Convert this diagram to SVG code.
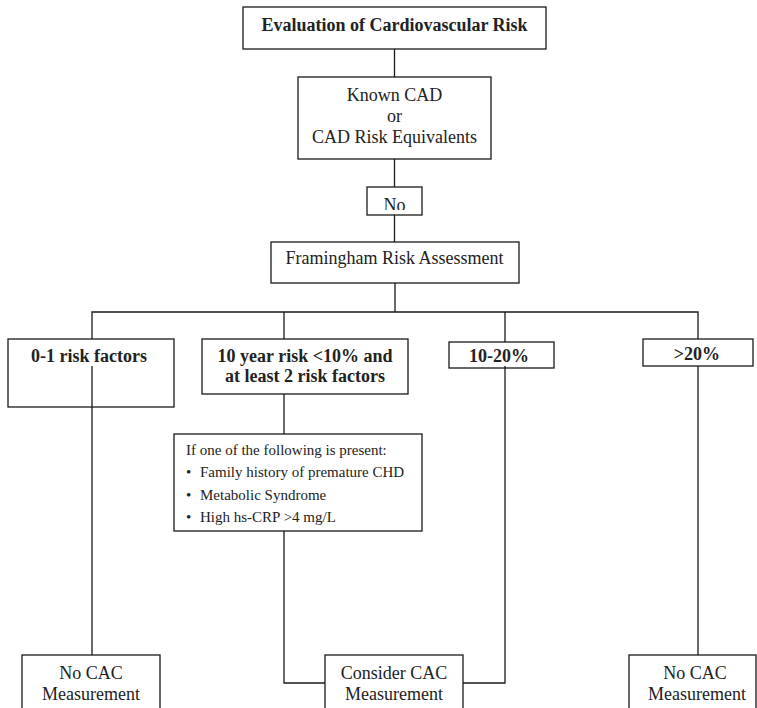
<svg xmlns="http://www.w3.org/2000/svg" width="757" height="708" viewBox="0 0 757 708">
<style>
.box{fill:#fff;stroke:#1a1a1a;stroke-width:1.3}
.ln{fill:none;stroke:#1a1a1a;stroke-width:1.3}
text{font-family:"Liberation Serif","Times New Roman",serif;font-size:18px;fill:#222}
.b{font-weight:bold}
.c{text-anchor:middle}
.s{font-size:15px}
</style>
<defs>
<clipPath id="noclip"><rect x="367" y="187" width="55" height="23"/></clipPath>
</defs>
<rect width="757" height="708" fill="#fff"/>
<g id="evaluation">
<rect class="box" x="243" y="7" width="303" height="42"/>
<text class="b c" x="394.5" y="31">Evaluation of Cardiovascular Risk</text>
</g>
<g id="known-cad">
<rect class="box" x="298" y="77" width="193" height="82"/>
<text class="c" x="394.5" y="101">Known CAD</text>
<text class="c" x="394.5" y="122">or</text>
<text class="c" x="394.5" y="143">CAD Risk Equivalents</text>
</g>
<g id="no">
<rect class="box" x="367" y="187" width="55" height="28"/>
<text class="c" x="394.5" y="211" clip-path="url(#noclip)">No</text>
</g>
<g id="framingham">
<rect class="box" x="271" y="242" width="248" height="41"/>
<text class="c" x="394.5" y="264">Framingham Risk Assessment</text>
</g>
<g id="risk-0-1">
<rect class="box" x="8" y="339" width="166" height="68"/>
<text class="b c" x="89" y="362">0-1 risk factors</text>
</g>
<g id="risk-10yr">
<rect class="box" x="202" y="339" width="206" height="55"/>
<text class="b c" x="305" y="362">10 year risk &lt;10% and</text>
<text class="b c" x="305" y="382">at least 2 risk factors</text>
</g>
<g id="risk-10-20">
<rect class="box" x="449" y="342" width="105" height="26"/>
<text class="b c" x="499" y="362">10-20%</text>
</g>
<g id="risk-gt20">
<rect class="box" x="643" y="339" width="110" height="27"/>
<text class="b c" x="697" y="360">&gt;20%</text>
</g>
<g id="conditions">
<rect class="box" x="174" y="434" width="248" height="97"/>
<text class="s" x="186" y="455">If one of the following is present:</text>
<text class="s" x="186" y="477">•</text>
<text class="s" x="200" y="477">Family history of premature CHD</text>
<text class="s" x="186" y="500">•</text>
<text class="s" x="200" y="500">Metabolic Syndrome</text>
<text class="s" x="186" y="522">•</text>
<text class="s" x="200" y="522">High hs-CRP &gt;4 mg/L</text>
</g>
<g id="no-cac-left">
<rect class="box" x="22" y="655" width="138" height="70"/>
<text class="c" x="91" y="679">No CAC</text>
<text class="c" x="91" y="700">Measurement</text>
</g>
<g id="consider-cac">
<rect class="box" x="325" y="655" width="138" height="70"/>
<text class="c" x="394" y="679">Consider CAC</text>
<text class="c" x="394" y="700">Measurement</text>
</g>
<g id="no-cac-right">
<rect class="box" x="629" y="655" width="127" height="70"/>
<text class="c" x="695" y="679">No CAC</text>
<text class="c" x="697" y="700">Measurement</text>
</g>
<g id="connectors">
<path class="ln" d="M394.5 49V77"/>
<path class="ln" d="M394.5 159V187"/>
<path class="ln" d="M394.5 215V242"/>
<path class="ln" d="M395 283V312"/>
<path class="ln" d="M92 339V312H698V339"/>
<path class="ln" d="M284 312V339"/>
<path class="ln" d="M505 312V342"/>
<path class="ln" d="M92 366V655"/>
<path class="ln" d="M284 394V434"/>
<path class="ln" d="M284 531V683H325"/>
<path class="ln" d="M505 366V683H463"/>
<path class="ln" d="M698 366V655"/>
</g>
</svg>
